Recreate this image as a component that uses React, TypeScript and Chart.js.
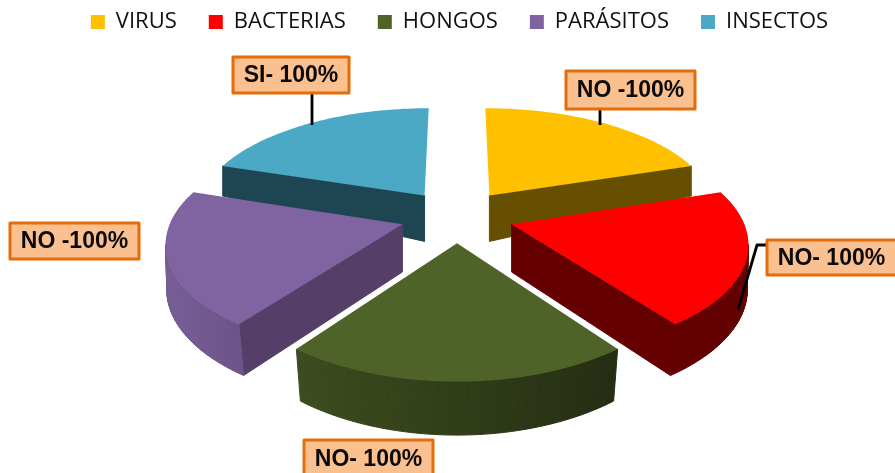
import React, { useEffect, useRef } from "react";
import { Chart, registerables } from "chart.js";

Chart.register(...registerables);

const categories = ["VIRUS", "BACTERIAS", "HONGOS", "PARÁSITOS", "INSECTOS"];
const values = [100, 100, 100, 100, 100];
const sliceLabels = ["NO -100%", "NO- 100%", "NO- 100%", "NO -100%", "SI- 100%"];
const topColors = ["#FFC000", "#FF0000", "#4F6228", "#8064A2", "#4BA9C6"];
const innerWallColors = ["#665000", "#640000", "#20290F", "#543F68", "#1E4552"];

const callouts = [
  { box: [566, 71, 129, 38], leader: [[600, 109], [600, 125]] },
  { box: [767, 240, 131, 35], leader: [[767, 245], [757, 245], [738, 310]] },
  { box: [304, 440, 129, 38], leader: [] },
  { box: [10, 223, 129, 36], leader: [] },
  { box: [233, 57, 116, 36], leader: [[312, 93], [312, 125]] },
];

const CX = 457;
const CY = 216;
const SX = 230;
const SY = 106;
const PERSP = 0.15;
const EXPLODE = 0.247;
const DEPTH_TABLE = [
  [-1.4, 20],
  [-0.55, 28],
  [-0.2, 46],
  [0.1, 48],
  [1.06, 52],
  [1.3, 54],
];

function depthAt(y: number) {
  for (let i = 1; i < DEPTH_TABLE.length; i++) {
    const [y0, d0] = DEPTH_TABLE[i - 1];
    const [y1, d1] = DEPTH_TABLE[i];
    if (y <= y1) return d0 + ((d1 - d0) * (y - y0)) / (y1 - y0);
  }
  return DEPTH_TABLE[DEPTH_TABLE.length - 1][1];
}

function project(X: number, Y: number) {
  const f = 1 / (1 - PERSP * Y);
  const x = CX + SX * X * f;
  const y = CY + SY * Y * f + Math.max(0, Y - 1.05) * 15;
  const shrink = 1 - 0.025 * Math.max(0, Math.min(1, (Y - 0.1) / 0.9));
  return {
    x,
    y,
    bx: CX + (x - CX) * shrink,
    by: y + depthAt(Y),
    X,
    Y,
  };
}

function shade(hex: string, k: number) {
  const n = parseInt(hex.slice(1), 16);
  const c = [(n >> 16) & 255, (n >> 8) & 255, n & 255].map((v) => Math.round(v * k));
  return `rgb(${c[0]},${c[1]},${c[2]})`;
}

const pie3d = {
  id: "pie3d",
  beforeDatasetsDraw(chart: any) {
    const ctx = chart.ctx;
    const arcs = chart.getDatasetMeta(0).data;
    const slices = arcs.map((arc: any, i: number) => {
      const a0 = arc.startAngle + Math.PI / 2;
      const a1 = arc.endAngle + Math.PI / 2;
      const mid = (a0 + a1) / 2;
      const ox = Math.sin(mid) * EXPLODE;
      const oy = -Math.cos(mid) * EXPLODE;
      const rim = [];
      const N = 48;
      for (let k = 0; k <= N; k++) {
        const a = a0 + ((a1 - a0) * k) / N;
        rim.push(project(ox + Math.sin(a), oy - Math.cos(a)));
      }
      return { i, apex: project(ox, oy), rim, depth: oy };
    });
    slices.sort((p: any, q: any) => p.depth - q.depth);

    const quad = (p: any, q: any, fill: string) => {
      ctx.beginPath();
      ctx.moveTo(p.x, p.y);
      ctx.lineTo(q.x, q.y);
      ctx.lineTo(q.bx, q.by);
      ctx.lineTo(p.bx, p.by);
      ctx.closePath();
      ctx.fillStyle = fill;
      ctx.strokeStyle = fill;
      ctx.lineWidth = 1;
      ctx.fill();
      ctx.stroke();
    };

    slices.forEach((s: any) => {
      const inner = innerWallColors[s.i];
      const base = topColors[s.i];
      const first = s.rim[0];
      const last = s.rim[s.rim.length - 1];
      const walls: any[] = [];
      if (first.x - s.apex.x < -5) walls.push({ p: s.apex, q: first, fill: inner, y: (s.apex.Y + first.Y) / 2 });
      if (s.apex.x - last.x < -5) walls.push({ p: last, q: s.apex, fill: inner, y: (s.apex.Y + last.Y) / 2 });
      for (let k = 0; k < s.rim.length - 1; k++) {
        const p = s.rim[k];
        const q = s.rim[k + 1];
        if (q.x >= p.x) continue;
        const nx = (p.X + q.X) / 2;
        const k2 = Math.max(0.39, Math.min(0.92, 0.62 - 0.27 * nx));
        walls.push({ p, q, fill: shade(base, k2), y: (p.Y + q.Y) / 2 });
      }
      walls.sort((u, v) => u.y - v.y).forEach((w) => quad(w.p, w.q, w.fill));

      ctx.beginPath();
      ctx.moveTo(s.apex.x, s.apex.y);
      s.rim.forEach((p: any) => ctx.lineTo(p.x, p.y));
      ctx.closePath();
      ctx.fillStyle = base;
      ctx.fill();
    });

    ctx.save();
    ctx.strokeStyle = "#000000";
    ctx.lineWidth = 2.8;
    ctx.lineJoin = "round";
    callouts.forEach((c) => {
      if (!c.leader.length) return;
      ctx.beginPath();
      c.leader.forEach(([x, y], k) => (k ? ctx.lineTo(x, y) : ctx.moveTo(x, y)));
      ctx.stroke();
    });
    ctx.font = 'bold 23px "Liberation Sans", Arial, sans-serif';
    ctx.textAlign = "center";
    ctx.textBaseline = "middle";
    callouts.forEach((c, i) => {
      const [x, y, w, h] = c.box;
      ctx.fillStyle = "#FAC090";
      ctx.strokeStyle = "#E46C0A";
      ctx.lineWidth = 3;
      ctx.fillRect(x, y, w, h);
      ctx.strokeRect(x, y, w, h);
      ctx.fillStyle = "#0A0A0A";
      ctx.fillText(sliceLabels[i], x + Math.min(w, 129) / 2, y + h / 2 + 1);
    });
    ctx.restore();
    return false;
  },
};

export default function App() {
  const ref = useRef<HTMLCanvasElement>(null);
  useEffect(() => {
    const chart = new Chart(ref.current as HTMLCanvasElement, {
      type: "pie",
      data: {
        labels: categories,
        datasets: [{ data: values, backgroundColor: topColors, borderWidth: 0 }],
      },
      options: {
        animation: false,
        responsive: false,
        layout: { padding: { left: 24, top: -21 } },
        plugins: {
          tooltip: { enabled: false },
          legend: {
            position: "top",
            labels: {
              boxWidth: 14,
              boxHeight: 14,
              padding: 32,
              color: "#111111",
              font: { family: '"Open Sans", sans-serif', size: 22 },
            },
          },
        },
      },
      plugins: [pie3d],
    } as any);
    return () => chart.destroy();
  }, []);
  return (
    <div style={{ position: "absolute", left: 0, top: 0, width: 895, height: 473, overflow: "hidden", background: "#fff" }}>
      <canvas ref={ref} width={895} height={473} style={{ display: "block" }} />
    </div>
  );
}
